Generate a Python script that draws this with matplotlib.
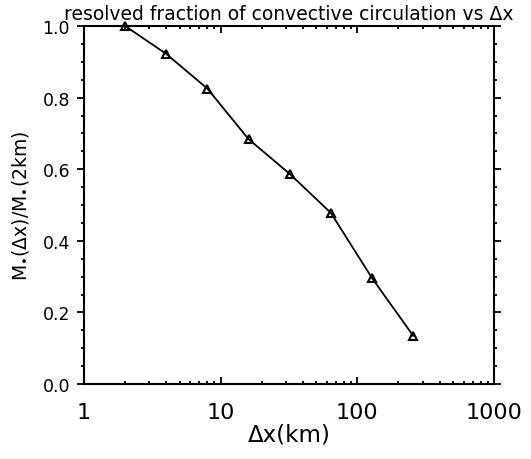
import matplotlib
matplotlib.use("Agg")
import matplotlib.pyplot as plt
from matplotlib.ticker import FixedLocator, FixedFormatter, LogLocator, NullFormatter, MultipleLocator

dx_km = [2, 4, 8, 16, 32, 64, 128, 256]
frac = [1.0, 0.922, 0.825, 0.684, 0.587, 0.478, 0.296, 0.135]
xtick_vals = [1, 10, 100, 1000]
xtick_labels = ["1", "10", "100", "1000"]
ytick_vals = [0.0, 0.2, 0.4, 0.6, 0.8, 1.0]
ytick_labels = ["0.0", "0.2", "0.4", "0.6", "0.8", "1.0"]

plt.rcParams['font.family'] = ['DejaVu Sans']
fig = plt.figure(figsize=(5.31, 4.60), dpi=100)
ax = fig.add_axes([84/531, 75/460, 410/531, 358/460])

ax.plot(dx_km, frac, color='black', lw=1.3, marker='^', markersize=6,
        markerfacecolor='none', markeredgecolor='black', markeredgewidth=1.5,
        clip_on=False, zorder=3)

ax.set_xscale('log')
ax.set_xlim(1, 1000)
ax.set_ylim(0, 1)
ax.xaxis.set_major_locator(FixedLocator(xtick_vals))
ax.xaxis.set_major_formatter(FixedFormatter(xtick_labels))
ax.xaxis.set_minor_locator(LogLocator(base=10, subs=range(2, 10)))
ax.xaxis.set_minor_formatter(NullFormatter())
ax.yaxis.set_major_locator(FixedLocator(ytick_vals))
ax.yaxis.set_major_formatter(FixedFormatter(ytick_labels))
ax.yaxis.set_minor_locator(MultipleLocator(0.05))

ax.tick_params(axis='x', which='both', direction='in', top=True, bottom=True, pad=13, labelsize=16)
ax.tick_params(axis='y', which='both', direction='out', left=True, right=True, pad=5, labelsize=12.5)
ax.tick_params(which='major', length=5, width=1.3)
ax.tick_params(which='minor', length=2.2, width=1.3)
for s in ax.spines.values():
    s.set_linewidth(1.5)

ax.set_title("resolved fraction of convective circulation vs Δx", fontsize=13.5, pad=5)
ax.set_xlabel("Δx(km)", fontsize=16.5, labelpad=0)
ax.set_ylabel("M$_\\mathbf{•}$(Δx)/M$_\\mathbf{•}$(2km)", fontsize=13.5, labelpad=8)

fig.savefig("out.png", dpi=100)
